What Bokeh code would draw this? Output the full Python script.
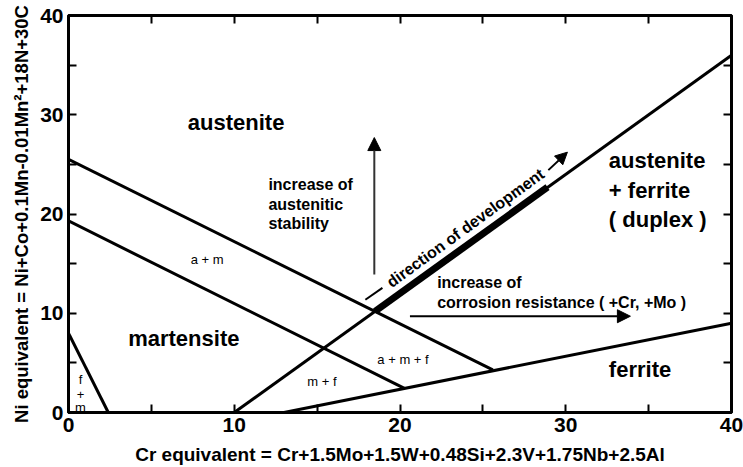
from bokeh.plotting import figure
from bokeh.models import Range1d, LinearAxis, FixedTicker, Arrow, NormalHead
from bokeh.core.properties import value
from bokeh.embed import file_html
from bokeh.resources import INLINE

FONT = "Liberation Sans"

# Phase boundaries as straight segments (Cr equivalent, Ni equivalent)
boundary_x0 = [0, 0, 0, 10, 13]
boundary_y0 = [25.5, 19.3, 8.0, 0, 0]
boundary_x1 = [25.6, 20.3, 2.4, 40, 40]
boundary_y1 = [4.3, 2.4, 0, 36, 9]

# Heavy band marking the development path along the duplex boundary
band_x = [18.5, 28.9]
band_y = [10.2, 22.7]

# Main phase field names
phase_names = ["austenite", "martensite", "austenite\n+ ferrite\n( duplex )", "ferrite"]
phase_x = [7.2, 3.6, 32.6, 32.6]
phase_y = [29.25, 7.5, 22.4, 4.3]

# Mixed-phase field labels
mix_names = ["a + m", "a + m   + f", "m  + f", "f", "+", "m"]
mix_x = [8.36, 20.4, 15.4, 0.72, 0.72, 0.72]
mix_y = [15.45, 5.33, 3.15, 3.3, 1.8, 0.5]

# Explanatory notes
note_names = ["increase of\naustenitic\nstability",
              "increase of\ncorrosion resistance ( +Cr, +Mo )"]
note_x = [12.06, 22.24]
note_y = [21.0, 12.1]

# Arrows: austenitic stability (up), corrosion resistance (right)
stab_arrow = [18.45, 13.9, 18.45, 27.7]
corr_arrow = [20.6, 9.7, 33.9, 9.7]

# "direction of development" caption along the duplex boundary
dev_text = "direction of development"
dev_xy = [19.3, 12.96]
dev_dash = [17.91, 11.36, 18.94, 12.56]
dev_arrow = [28.95, 24.42, 30.1, 26.23]

major_ticks = [0, 10, 20, 30, 40]
minor_ticks = [5, 15, 25, 35]
frame_ticks = [5, 10, 15, 20, 25, 30, 35]

p = figure(width=743, height=467, x_range=Range1d(0, 40), y_range=Range1d(0, 40),
           output_backend="svg", toolbar_location=None,
           min_border_left=68, min_border_right=12, min_border_top=15, min_border_bottom=54)
p.grid.visible = False
p.outline_line_color = "black"
p.outline_line_width = 3
p.background_fill_color = "white"
p.border_fill_color = "white"


def style_axis(ax, ticker):
    ax.ticker = ticker
    ax.axis_line_width = 3
    ax.axis_line_color = "black"
    ax.major_tick_in = 8
    ax.major_tick_out = 0
    ax.minor_tick_in = 8
    ax.minor_tick_out = 0
    ax.major_tick_line_width = 2
    ax.minor_tick_line_width = 2
    ax.major_tick_line_color = "black"
    ax.minor_tick_line_color = "black"


label_ticker = FixedTicker(ticks=major_ticks, minor_ticks=minor_ticks)
for ax in (p.xaxis[0], p.yaxis[0]):
    style_axis(ax, label_ticker)
    ax.major_label_text_font = FONT
    ax.major_label_text_font_style = "bold"
    ax.major_label_text_font_size = "21px"
    ax.major_label_text_color = "black"
    ax.major_label_standoff = 5
    ax.axis_label_text_font = FONT
    ax.axis_label_text_font_style = "bold"
    ax.axis_label_text_color = "black"

p.xaxis.axis_label = "Cr equivalent = Cr+1.5Mo+1.5W+0.48Si+2.3V+1.75Nb+2.5Al"
p.yaxis.axis_label = "Ni equivalent = Ni+Co+0.1Mn-0.01Mn\u00b2+18N+30C"
p.xaxis.axis_label_text_font_size = "19px"
p.yaxis.axis_label_text_font_size = "18.5px"
p.xaxis.axis_label_standoff = 9
p.yaxis.axis_label_standoff = 5

# tick marks only on the top and right edges of the frame
frame_ticker = FixedTicker(ticks=[], minor_ticks=frame_ticks)
top_axis = LinearAxis()
right_axis = LinearAxis()
for ax in (top_axis, right_axis):
    style_axis(ax, frame_ticker)
    ax.major_label_standoff = 0
p.add_layout(top_axis, "above")
p.add_layout(right_axis, "right")

# boundaries
p.segment(x0=boundary_x0, y0=boundary_y0, x1=boundary_x1, y1=boundary_y1,
          line_color="black", line_width=3)
p.line(x=band_x, y=band_y, line_color="black", line_width=7)

# labels
p.text(x=phase_x, y=phase_y, text=phase_names, text_font=value(FONT),
       text_font_style="bold", text_font_size="22px", text_align="left",
       text_baseline="middle", text_line_height=1.18, text_color="black")
p.text(x=mix_x, y=mix_y, text=mix_names, text_font=value(FONT),
       text_font_size="13px", text_align="center", text_baseline="middle",
       text_color="black")
p.text(x=note_x, y=note_y, text=note_names, text_font=value(FONT),
       text_font_style="bold", text_font_size="16px", text_align="left",
       text_baseline="middle", text_line_height=1.15, text_color="black")

# arrows
p.add_layout(Arrow(x_start=stab_arrow[0], y_start=stab_arrow[1],
                   x_end=stab_arrow[2], y_end=stab_arrow[3],
                   line_color="#333333", line_width=2,
                   end=NormalHead(size=13, fill_color="black", line_color="black")))
p.add_layout(Arrow(x_start=corr_arrow[0], y_start=corr_arrow[1],
                   x_end=corr_arrow[2], y_end=corr_arrow[3],
                   line_color="black", line_width=2,
                   end=NormalHead(size=13, fill_color="black", line_color="black")))

# direction of development
p.text(x=[dev_xy[0]], y=[dev_xy[1]], text=[dev_text], angle=0.628,
       text_font=value(FONT), text_font_style="bold", text_font_size="16px",
       text_align="left", text_baseline="middle", text_color="black")
p.segment(x0=[dev_dash[0]], y0=[dev_dash[1]], x1=[dev_dash[2]], y1=[dev_dash[3]],
          line_color="black", line_width=2)
p.add_layout(Arrow(x_start=dev_arrow[0], y_start=dev_arrow[1],
                   x_end=dev_arrow[2], y_end=dev_arrow[3],
                   line_color="black", line_width=2,
                   end=NormalHead(size=12, fill_color="black", line_color="black")))

open("out.html", "w").write(file_html(p, INLINE))
